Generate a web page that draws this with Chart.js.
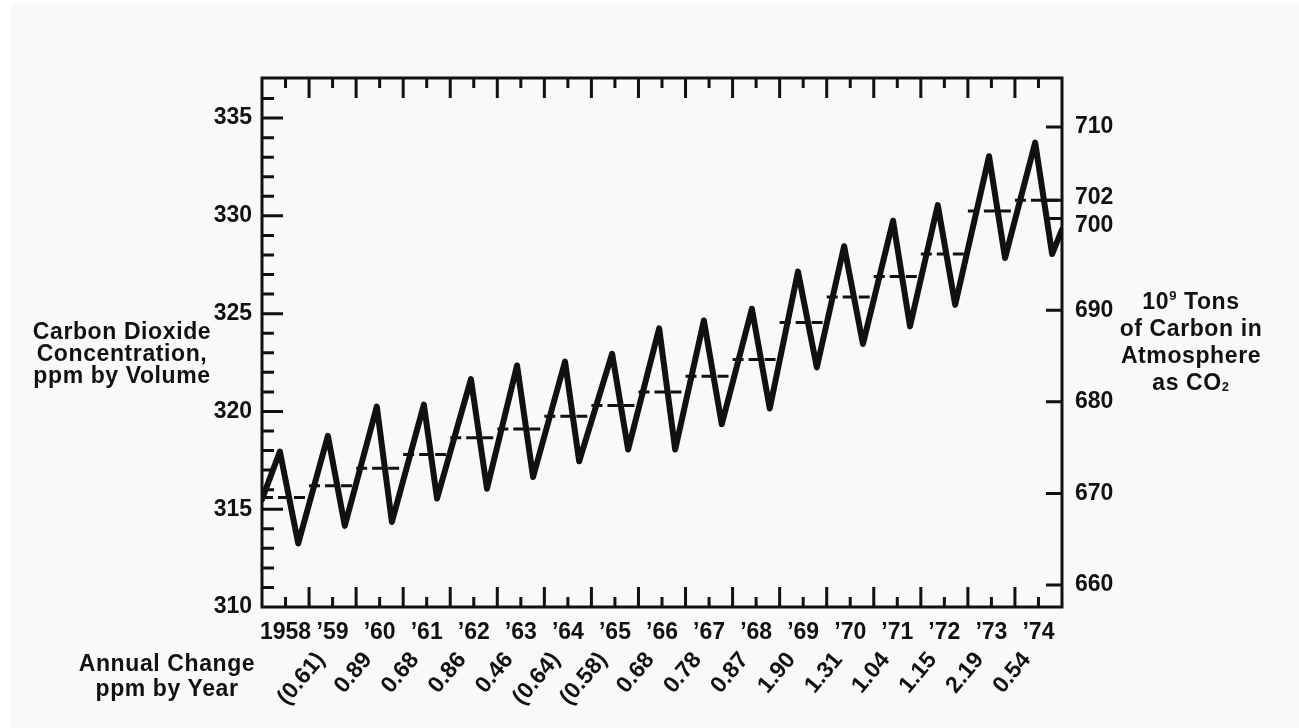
<!DOCTYPE html>
<html>
<head>
<meta charset="utf-8">
<script src="https://cdn.jsdelivr.net/npm/chart.js@4.4.0/dist/chart.umd.min.js"></script>
<style>
  body { margin: 0; background: #fff; width: 1299px; height: 728px; overflow: hidden; }
  #wrap { position: absolute; left: 11px; top: 3px; width: 1288px; height: 725px; background: #f9f9f9; }
  .ttl { position: absolute; font: bold 23px "Liberation Sans", Arial, sans-serif; letter-spacing: 0.6px;
         color: #111; text-align: center; white-space: nowrap; }
  .ttl sup { font-size: 13px; vertical-align: 9px; line-height: 0; }
  .ttl sub { font-size: 13px; vertical-align: -1px; line-height: 0; }
</style>
</head>
<body>
<div id="wrap"><canvas id="co2"></canvas></div>

<div class="ttl" style="left:22px;width:200px;top:320px;line-height:22px;">Carbon Dioxide<br>Concentration,<br>ppm by Volume</div>
<div class="ttl" style="left:1091px;width:200px;top:288px;line-height:27px;">10<sup>9</sup> Tons<br>of Carbon in<br>Atmosphere<br>as CO<sub>2</sub></div>
<div class="ttl" style="left:67px;width:200px;top:651px;line-height:25px;">Annual Change<br>ppm by Year</div>

<script>
// ------
// data (Mauna Loa CO2, 1958-1974)
// ------
const seasonYears = [1958.0, 1958.38, 1958.77, 1959.40, 1959.76, 1960.44, 1960.76, 1961.44, 1961.72,
  1962.44, 1962.78, 1963.42, 1963.76, 1964.44, 1964.74, 1965.44, 1965.78, 1966.44, 1966.78,
  1967.39, 1967.77, 1968.41, 1968.79, 1969.39, 1969.79, 1970.37, 1970.77, 1971.41, 1971.77,
  1972.36, 1972.73, 1973.45, 1973.79, 1974.43, 1974.79, 1975.0];
const seasonPpm = [315.5, 317.95, 313.25, 318.75, 314.15, 320.25, 314.35, 320.35, 315.55,
  321.65, 316.05, 322.35, 316.65, 322.55, 317.45, 322.95, 318.05, 324.25, 318.05,
  324.65, 319.35, 325.25, 320.15, 327.15, 322.25, 328.45, 323.45, 329.75, 324.35,
  330.55, 325.45, 333.05, 327.85, 333.75, 328.05, 329.3];

const meanYears = [1958, 1959, 1960, 1961, 1962, 1963, 1964, 1965, 1966, 1967, 1968, 1969, 1970, 1971, 1972, 1973, 1974];
const meanPpm = [315.6, 316.2, 317.1, 317.8, 318.65, 319.1, 319.75, 320.3, 321.0, 321.8, 322.65, 324.55, 325.85, 326.9, 328.05, 330.25, 330.8];

const yearLabels = ['1958', '’59', '’60', '’61', '’62', '’63', '’64', '’65', '’66', '’67', '’68', '’69', '’70', '’71', '’72', '’73', '’74'];
const changeLabels = ['(0.61)', '0.89', '0.68', '0.86', '0.46', '(0.64)', '(0.58)', '0.68', '0.78', '0.87', '1.90', '1.31', '1.04', '1.15', '2.19', '0.54'];
const leftTicks = [310, 315, 320, 325, 330, 335];
const rightTicks = [660, 670, 680, 690, 700, 702, 710];

const ink = '#111';
const tickFont = { family: '"Liberation Sans", Arial, sans-serif', size: 23, weight: 'bold' };

// seasonal curve points
const seasonData = seasonYears.map((x, i) => ({ x: x, y: seasonPpm[i] }));
// annual mean steps, broken between years
const meanData = [];
meanYears.forEach((yr, i) => {
  meanData.push({ x: yr, y: meanPpm[i] }, { x: yr + 1, y: meanPpm[i] }, { x: yr + 1, y: null });
});

// ------
// box frame with inward tick marks
// ------
const frameTicks = {
  id: 'frameTicks',
  afterDatasetsDraw(chart) {
    const { ctx, chartArea: a, scales } = chart;
    const xs = scales.x, yl = scales.y, yr = scales.yr;
    ctx.save();
    ctx.strokeStyle = ink;
    ctx.lineWidth = 3;
    ctx.strokeRect(a.left, a.top, a.right - a.left, a.bottom - a.top);
    ctx.beginPath();
    for (let yr0 = 1958; yr0 <= 1974; yr0++) {
      const maj = xs.getPixelForValue(yr0);
      const mid = xs.getPixelForValue(yr0 + 0.5);
      if (yr0 > 1958) {
        ctx.moveTo(maj, a.top); ctx.lineTo(maj, a.top + 20);
        ctx.moveTo(maj, a.bottom); ctx.lineTo(maj, a.bottom - 20);
      }
      ctx.moveTo(mid, a.top); ctx.lineTo(mid, a.top + 10);
      ctx.moveTo(mid, a.bottom); ctx.lineTo(mid, a.bottom - 10);
    }
    for (let v = 311; v <= 336; v++) {
      const py = yl.getPixelForValue(v);
      const len = v % 5 === 0 ? 21 : 12;
      ctx.moveTo(a.left, py); ctx.lineTo(a.left + len, py);
    }
    rightTicks.forEach(v => {
      const py = yr.getPixelForValue(v);
      ctx.moveTo(a.right, py); ctx.lineTo(a.right - 16, py);
    });
    ctx.stroke();
    ctx.restore();
  }
};

const ctx = document.getElementById('co2');
new Chart(ctx, {
  type: 'line',
  data: {
    datasets: [
      {
        label: 'Monthly CO2',
        data: seasonData,
        borderColor: ink,
        borderWidth: 6,
        borderJoinStyle: 'round',
        borderCapStyle: 'round',
        pointRadius: 0,
        tension: 0,
        xAxisID: 'x',
        yAxisID: 'y',
      },
      {
        label: 'Annual mean',
        data: meanData,
        borderColor: ink,
        borderWidth: 3,
        borderDash: [11, 5],
        pointRadius: 0,
        spanGaps: false,
        xAxisID: 'x',
        yAxisID: 'y',
      },
    ],
  },
  options: {
    responsive: true,
    maintainAspectRatio: false,
    animation: false,
    layout: { padding: { top: 75, left: 0, right: 0, bottom: 0 } },
    plugins: { legend: { display: false }, tooltip: { enabled: false } },
    scales: {
      x: {
        type: 'linear',
        position: 'bottom',
        min: 1958,
        max: 1975,
        grid: { display: false, drawTicks: false },
        border: { display: false },
        afterBuildTicks: s => { s.ticks = meanYears.map(v => ({ value: v + 0.5 })); },
        afterFit: s => { s.height = 36; },
        ticks: {
          autoSkip: false,
          maxRotation: 0,
          minRotation: 0,
          padding: 12,
          color: ink,
          font: tickFont,
          callback: (v, i) => yearLabels[i],
        },
      },
      xc: {
        type: 'linear',
        position: 'bottom',
        min: 1958,
        max: 1975,
        grid: { display: false, drawTicks: false },
        border: { display: false },
        afterBuildTicks: s => { s.ticks = changeLabels.map((c, i) => ({ value: meanYears[i + 1] + 0.25 })); },
        afterFit: s => { s.height = 85; },
        ticks: {
          autoSkip: false,
          maxRotation: 50,
          minRotation: 50,
          padding: 4,
          color: ink,
          font: tickFont,
          callback: (v, i) => changeLabels[i],
        },
      },
      y: {
        type: 'linear',
        position: 'left',
        min: 310,
        max: 337.05,
        grid: { display: false, drawTicks: false },
        border: { display: false },
        afterBuildTicks: s => { s.ticks = leftTicks.map(v => ({ value: v })); },
        afterFit: s => { s.width = 251; },
        ticks: { autoSkip: false, padding: 10, color: ink, font: tickFont },
      },
      yr: {
        type: 'linear',
        position: 'right',
        min: 657.6,
        max: 715.35,
        grid: { display: false, drawTicks: false },
        border: { display: false },
        // 700 and 702 sit close together, so their labels are nudged apart
        afterBuildTicks: s => {
          s.ticks = rightTicks.map(v => ({ value: v === 700 ? 699.2 : v === 702 ? 702.3 : v }));
        },
        afterFit: s => { s.width = 237; },
        ticks: {
          autoSkip: false,
          padding: 13,
          color: ink,
          font: tickFont,
          callback: (v, i) => String(rightTicks[i]),
        },
      },
    },
  },
  plugins: [frameTicks],
});
</script>
</body>
</html>
